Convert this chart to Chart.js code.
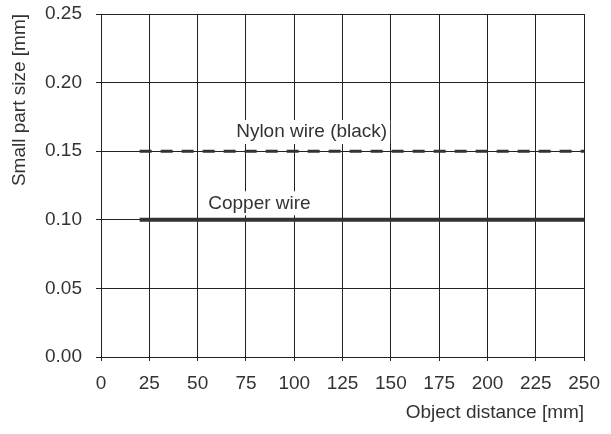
<!doctype html>
<html lang="en">
<head>
    <meta charset="utf-8">
    <title>Small part size vs object distance</title>
    <script src="https://cdn.jsdelivr.net/npm/chart.js@4.4.0/dist/chart.umd.min.js"></script>
    <style>
        html, body { margin: 0; padding: 0; background: #fff; }
    </style>
</head>
<body>
    <canvas id="sizeChart" width="611" height="434"></canvas>
    <script>
        // data
        var distances = [20, 250];
        var copperSize = [0.10, 0.10];
        var nylonSize = [0.15, 0.15];
        var xTicks = [0, 25, 50, 75, 100, 125, 150, 175, 200, 225, 250];
        var yTicks = [0.00, 0.05, 0.10, 0.15, 0.20, 0.25];
        var seriesLabels = ['Copper wire', 'Nylon wire (black)'];

        var ink = '#333';
        var gridInk = '#222';
        var font = { family: 'Liberation Sans, Arial, sans-serif', size: 19 };

        function pts(xs, ys) {
            return xs.map(function (x, i) { return { x: x, y: ys[i] }; });
        }

        // text labels sitting over the lines, white box hides the grid behind
        var lineLabels = {
            id: 'lineLabels',
            afterDatasetsDraw: function (chart, args, opts) {
                var ctx = chart.ctx;
                var xs = chart.scales.x, ys = chart.scales.y;
                ctx.save();
                ctx.font = font.size + 'px ' + font.family;
                ctx.textAlign = 'center';
                ctx.textBaseline = 'middle';
                opts.items.forEach(function (it) {
                    var px = xs.getPixelForValue(it.x);
                    var py = ys.getPixelForValue(it.y);
                    var w = ctx.measureText(it.text).width;
                    ctx.fillStyle = '#fff';
                    ctx.fillRect(px - w / 2 - 3, py - 12, w + 6, 24);
                    ctx.fillStyle = ink;
                    ctx.fillText(it.text, px, py);
                });
                ctx.restore();
            }
        };

        var ctx = document.getElementById('sizeChart').getContext('2d');
        var chart = new Chart(ctx, {
            type: 'line',
            data: {
                datasets: [{
                    label: seriesLabels[0],
                    data: pts(distances, copperSize),
                    borderColor: ink,
                    borderWidth: 4,
                    borderCapStyle: 'butt',
                    pointRadius: 0
                }, {
                    label: seriesLabels[1],
                    data: pts(distances, nylonSize),
                    borderColor: ink,
                    borderWidth: 3,
                    borderDash: [12, 9],
                    borderCapStyle: 'butt',
                    pointRadius: 0
                }]
            },
            options: {
                responsive: false,
                animation: false,
                layout: { padding: { top: 14, right: 26, bottom: 10, left: 0 } },
                plugins: {
                    legend: { display: false },
                    tooltip: { enabled: false },
                    lineLabels: {
                        items: [
                            { text: seriesLabels[1], x: 109, y: 0.164 },
                            { text: seriesLabels[0], x: 82, y: 0.112 }
                        ]
                    }
                },
                scales: {
                    x: {
                        type: 'linear',
                        min: 0,
                        max: 250,
                        afterBuildTicks: function (s) { s.ticks = xTicks.map(function (v) { return { value: v }; }); },
                        afterFit: function (s) { s.height = 67; },
                        grid: { color: gridInk, lineWidth: 1, tickLength: 4 },
                        border: { color: gridInk, width: 1 },
                        ticks: { color: ink, font: font, padding: 11, maxRotation: 0, autoSkip: false },
                        title: {
                            display: true,
                            text: 'Object distance [mm]',
                            align: 'end',
                            color: ink,
                            font: font,
                            padding: { top: 4, bottom: 0 }
                        }
                    },
                    y: {
                        type: 'linear',
                        min: 0,
                        max: 0.25,
                        afterBuildTicks: function (s) { s.ticks = yTicks.map(function (v) { return { value: v }; }); },
                        afterFit: function (s) { s.width = 101; s.paddingTop = 0; s.paddingBottom = 0; },
                        grid: { color: gridInk, lineWidth: 1, tickLength: 5 },
                        border: { color: gridInk, width: 1 },
                        ticks: {
                            color: ink,
                            font: font,
                            padding: 14,
                            autoSkip: false,
                            callback: function (v) { return v.toFixed(2); }
                        },
                        title: {
                            display: true,
                            text: 'Small part size [mm]',
                            align: 'end',
                            color: ink,
                            font: font,
                            padding: { top: 8, bottom: 0 }
                        }
                    }
                }
            },
            plugins: [lineLabels]
        });
    </script>
</body>
</html>
